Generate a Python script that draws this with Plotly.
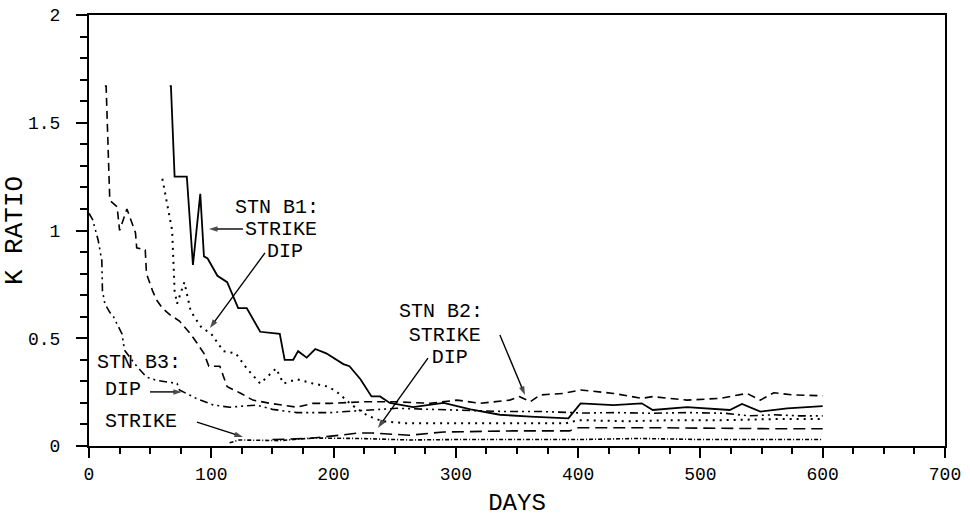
import plotly.graph_objects as go

# ---- data: K ratio versus elapsed days, three stations, strike & dip ----
b1_strike_days = [66, 67, 70, 80, 85, 91, 94, 97, 105, 113, 122, 129, 140, 156, 160, 167, 171, 178, 185,
                  194, 208, 213, 222, 231, 238, 246, 265, 290, 312, 336, 361, 392, 402, 429, 452, 461,
                  489, 524, 534, 549, 571, 600]
b1_strike_k = [1.67, 1.67, 1.25, 1.25, 0.84, 1.17, 0.88, 0.87, 0.79, 0.76, 0.64, 0.64, 0.53, 0.52, 0.40,
               0.40, 0.44, 0.41, 0.45, 0.43, 0.38, 0.37, 0.31, 0.23, 0.23, 0.20, 0.18, 0.20, 0.17, 0.145,
               0.136, 0.128, 0.198, 0.19, 0.198, 0.167, 0.18, 0.167, 0.195, 0.16, 0.175, 0.185]

b1_dip_days = [60, 68, 69, 70, 72, 78, 83, 86, 92, 100, 110, 120, 129, 140, 153, 159, 170, 183, 196,
               204, 215, 228, 240, 260, 300, 340, 390, 400, 440, 480, 520, 560, 600]
b1_dip_k = [1.24, 1.0, 0.86, 0.72, 0.66, 0.76, 0.63, 0.60, 0.55, 0.52, 0.44, 0.43, 0.36, 0.29, 0.36,
            0.29, 0.31, 0.29, 0.275, 0.245, 0.19, 0.14, 0.115, 0.105, 0.105, 0.105, 0.105, 0.12, 0.115,
            0.12, 0.12, 0.125, 0.125]

b2_strike_days = [13, 14, 17, 23, 25, 31, 38, 39, 46, 47, 52, 55, 60, 66, 74, 83, 88, 94, 98, 107, 113,
                  124, 134, 148, 170, 183, 197, 224, 252, 279, 301, 320, 344, 352, 361, 369, 388, 402,
                  429, 452, 461, 489, 516, 538, 549, 560, 576, 600]
b2_strike_k = [1.67, 1.67, 1.14, 1.11, 1.0, 1.1, 0.99, 0.92, 0.91, 0.80, 0.72, 0.68, 0.64, 0.61, 0.58,
               0.52, 0.48, 0.43, 0.37, 0.37, 0.275, 0.245, 0.213, 0.198, 0.18, 0.198, 0.198, 0.205,
               0.205, 0.198, 0.213, 0.198, 0.213, 0.229, 0.206, 0.237, 0.244, 0.26, 0.244, 0.221,
               0.229, 0.213, 0.221, 0.244, 0.213, 0.247, 0.237, 0.233]

b2_dip_days = [150, 180, 205, 220, 232, 262, 290, 347, 393, 400, 460, 520, 560, 600]
b2_dip_k = [0.03, 0.035, 0.05, 0.06, 0.06, 0.05, 0.065, 0.07, 0.07, 0.085, 0.085, 0.08, 0.08, 0.08]

b3_strike_days = [115, 123, 156, 183, 220, 262, 300, 350, 400, 450, 500, 550, 600]
b3_strike_k = [0.015, 0.028, 0.025, 0.037, 0.035, 0.028, 0.03, 0.03, 0.03, 0.035, 0.03, 0.03, 0.03]

b3_dip_days = [0, 3, 7.5, 10.5, 11, 13, 17, 20, 27, 29, 39, 47, 55, 72, 74, 88, 102, 115, 137, 150,
               170, 197, 224, 252, 280, 310, 340, 370, 404, 430, 460, 490, 520, 540, 560, 580, 600]
b3_dip_k = [1.08, 1.05, 0.955, 0.86, 0.72, 0.66, 0.62, 0.60, 0.52, 0.445, 0.37, 0.32, 0.305, 0.29,
            0.26, 0.22, 0.19, 0.18, 0.19, 0.17, 0.155, 0.155, 0.165, 0.175, 0.17, 0.165, 0.16, 0.16,
            0.153, 0.155, 0.152, 0.155, 0.152, 0.14, 0.145, 0.14, 0.14]

x_ticks = [0, 100, 200, 300, 400, 500, 600, 700]
x_tick_labels = ["0", "100", "200", "300", "400", "500", "600", "700"]
y_ticks = [0, 0.5, 1, 1.5, 2]
y_tick_labels = ["0", "0.5", "1", "1.5", "2"]

# station labels
label_text = ["STN B1:", "STRIKE", "DIP", "STN B2:", "STRIKE", "DIP", "STN B3:", "DIP", "STRIKE"]
label_days = [153.7, 157.0, 160.3, 287.8, 291.0, 295.0, 40.9, 27.8, 42.5]
label_k = [1.104, 1.002, 0.90, 0.622, 0.51, 0.408, 0.385, 0.26, 0.111]

# pointer arrows: tail -> head
arrow_tail_days = [125.9, 143.9, 336.0, 277.2, 49.9, 88.3]
arrow_tail_k = [1.007, 0.896, 0.515, 0.408, 0.251, 0.111]
arrow_head_days = [98.1, 98.9, 356.5, 236.3, 76.0, 125.9]
arrow_head_k = [1.007, 0.548, 0.237, 0.084, 0.251, 0.042]

FONT = "Liberation Mono"
INK = "black"

series = [
    ("STN B1 strike", b1_strike_days, b1_strike_k, "solid", 1.8),
    ("STN B1 dip", b1_dip_days, b1_dip_k, "2px,5px", 2),
    ("STN B2 strike", b2_strike_days, b2_strike_k, "8px,5px", 1.6),
    ("STN B2 dip", b2_dip_days, b2_dip_k, "12px,6px", 1.6),
    ("STN B3 strike", b3_strike_days, b3_strike_k, "4px,2px,1px,2px", 1.6),
    ("STN B3 dip", b3_dip_days, b3_dip_k, "8px,4px,2px,4px,2px,4px", 1.6),
]

fig = go.Figure()
for name, xs, ys, dash, w in series:
    fig.add_trace(go.Scatter(x=xs, y=ys, mode="lines", name=name, showlegend=False,
                             line=dict(color=INK, width=w, dash=dash)))

# pointers: a shaft with an arrowhead marker oriented along the segment
for tx, ty, hx, hy in zip(arrow_tail_days, arrow_tail_k, arrow_head_days, arrow_head_k):
    fig.add_trace(go.Scatter(
        x=[tx, hx], y=[ty, hy], mode="lines+markers", showlegend=False, hoverinfo="skip",
        line=dict(color=INK, width=1.4),
        marker=dict(symbol="arrow", size=[0, 9], angleref="previous", color=INK,
                    line=dict(width=0)),
    ))

fig.add_trace(go.Scatter(
    x=label_days, y=label_k, text=label_text, mode="text", textposition="middle center",
    textfont=dict(family=FONT, size=20, color=INK), showlegend=False, hoverinfo="skip",
))

fig.update_layout(
    width=970, height=520,
    margin=dict(l=89, r=25, t=15, b=74),
    plot_bgcolor="white",
    font=dict(family=FONT, color=INK),
)
fig.update_xaxes(
    range=[0, 700], tickvals=x_ticks, ticktext=x_tick_labels,
    ticks="outside", ticklen=10, tickcolor=INK, tickwidth=1.5,
    minor=dict(dtick=25, ticks="outside", ticklen=6, tickcolor=INK, tickwidth=1.5),
    showline=True, linecolor=INK, linewidth=2, mirror=True, automargin=False,
    tickfont=dict(family=FONT, size=18),
    title=dict(text="DAYS", font=dict(family=FONT, size=24), standoff=10),
)
fig.update_yaxes(
    range=[0, 2], tickvals=y_ticks, ticktext=y_tick_labels,
    ticks="outside", ticklen=11, tickcolor=INK, tickwidth=1.5,
    minor=dict(dtick=0.1, ticks="outside", ticklen=7, tickcolor=INK, tickwidth=1.5),
    showline=True, linecolor=INK, linewidth=2, mirror=True, automargin=False,
    tickfont=dict(family=FONT, size=18), ticklabelstandoff=12,
    title=dict(text="K RATIO", font=dict(family=FONT, size=26), standoff=2),
)

fig.write_html("out.html")
